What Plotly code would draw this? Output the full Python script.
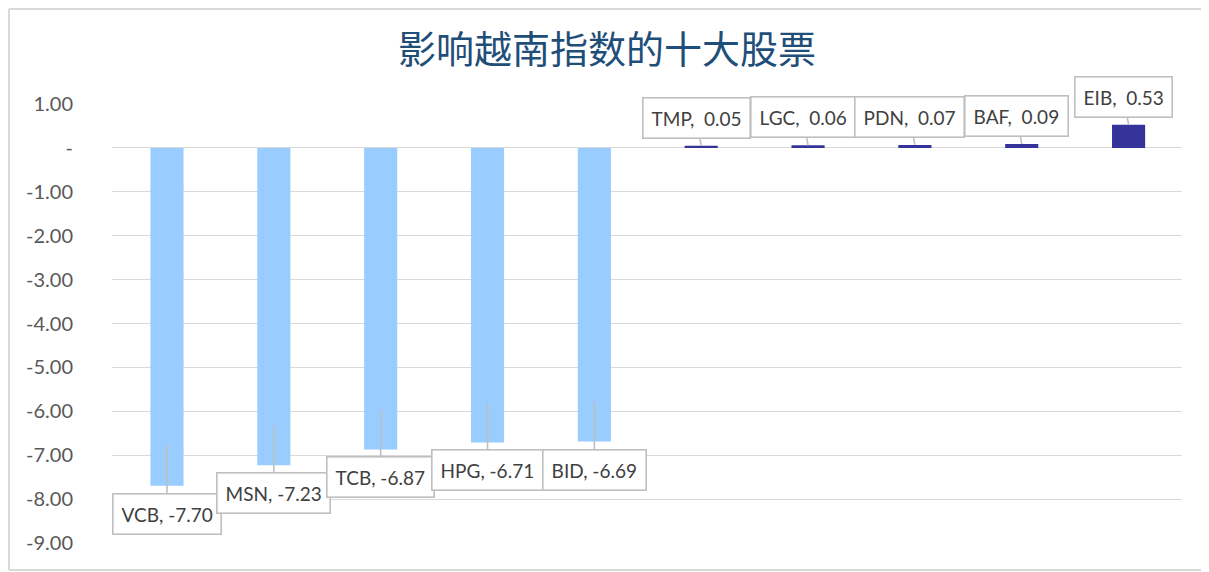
import plotly.graph_objects as go

# ---- data ----
stocks = ["VCB", "MSN", "TCB", "HPG", "BID", "TMP", "LGC", "PDN", "BAF", "EIB"]
impact = [-7.70, -7.23, -6.87, -6.71, -6.69, 0.05, 0.06, 0.07, 0.09, 0.53]
tick_values = [1, 0, -1, -2, -3, -4, -5, -6, -7, -8, -9]
tick_labels = ["1.00", "-", "-1.00", "-2.00", "-3.00", "-4.00", "-5.00",
               "-6.00", "-7.00", "-8.00", "-9.00"]
title_text = "影响越南指数的十大股票"

NEG_COLOR = "#99CCFF"
POS_COLOR = "#333399"
GRID = "#D9D9D9"

OFF = 8  # page body margin
W, H = 1209 - OFF, 572 - OFF
L, T = 112 - OFF, 104 - OFF
R = W - (1182 - OFF)
B = H - (543 - OFF)

colors = [NEG_COLOR if v < 0 else POS_COLOR for v in impact]

fig = go.Figure()
fig.add_trace(go.Bar(
    x=stocks, y=impact, marker=dict(color=colors, line=dict(width=0)),
    width=0.31, hoverinfo="x+y", showlegend=False,
))

label_font = dict(family="Lato, Carlito, sans-serif", size=19, color="#404040")
annotations = []
for s, v in zip(stocks, impact):
    if v < 0:
        text = f"{s}, {v:.2f}"
        annotations.append(dict(
            x=s, y=v, xref="x", yref="y", text=text,
            showarrow=True, arrowhead=0, arrowwidth=1.6, arrowcolor="#BFBFBF",
            ax=0, ay=68, yshift=40,
            bgcolor="white", bordercolor="#BFBFBF", borderwidth=1.6, borderpad=8,
            font=label_font,
        ))
    else:
        text = f"{s},&nbsp; {v:.2f}"
        annotations.append(dict(
            x=s, y=v, xref="x", yref="y", text=text,
            showarrow=True, arrowhead=0, arrowwidth=1.6, arrowcolor="#BFBFBF",
            ax=-5, ay=-28,
            bgcolor="white", bordercolor="#BFBFBF", borderwidth=1.6, borderpad=8,
            font=label_font,
        ))

pw = W - L - R
ph = H - T - B
bx0 = (1 - L) / pw
bx1 = (W + 20 - L) / pw
by0 = (H - B - (570 - OFF)) / ph
by1 = (H - B - 1) / ph
border = dict(color=GRID, width=2)

fig.update_layout(
    width=W, height=H,
    margin=dict(l=L, r=R, t=T, b=B),
    paper_bgcolor="white", plot_bgcolor="white",
    bargap=0.69,
    title=dict(text=title_text, x=(607 - OFF) / W, xanchor="center",
               y=1 - (50 - OFF) / H, yanchor="middle", yref="container", xref="container",
               font=dict(family="Noto Sans CJK SC, sans-serif", size=38, color="#1F4E79")),
    xaxis=dict(showticklabels=False, showgrid=False, zeroline=False, showline=False,
               ticks=""),
    yaxis=dict(range=[-9.002, 1.002], tickvals=tick_values, ticktext=tick_labels,
               showgrid=True, gridcolor=GRID, gridwidth=1.2,
               zeroline=True, zerolinecolor=GRID, zerolinewidth=1.2,
               showline=False, ticks="", ticklabelstandoff=38,
               tickfont=dict(family="Lato, Carlito, sans-serif", size=20, color="#595959")),
    annotations=annotations,
    shapes=[
        dict(type="line", xref="paper", yref="paper", x0=bx0, x1=bx1, y0=by1, y1=by1,
             line=border, layer="below"),
        dict(type="line", xref="paper", yref="paper", x0=bx0, x1=bx0, y0=by0, y1=by1,
             line=border, layer="below"),
        dict(type="line", xref="paper", yref="paper", x0=bx0, x1=bx1, y0=by0, y1=by0,
             line=border, layer="below"),
    ],
)

fig.write_html("out.html")
